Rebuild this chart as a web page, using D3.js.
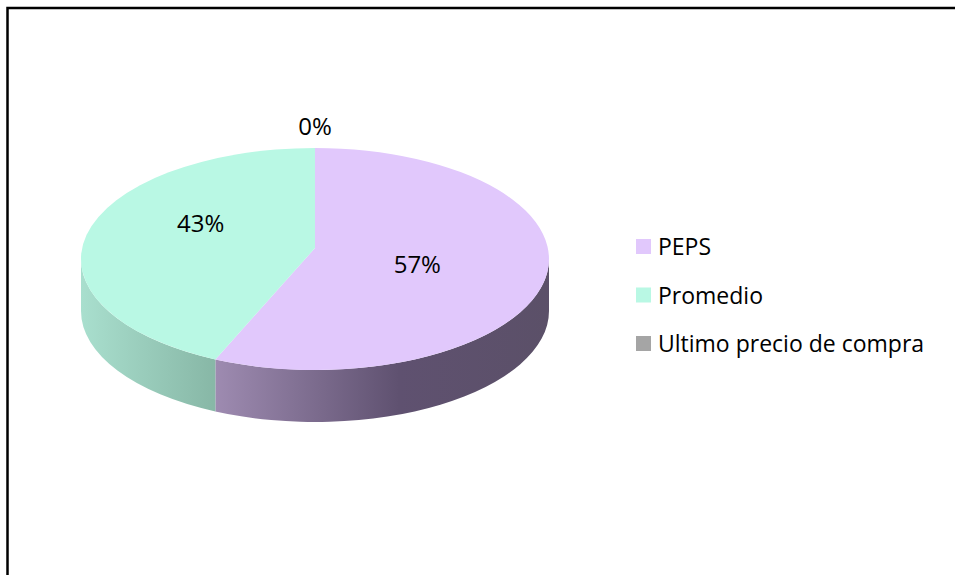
<!DOCTYPE html>
<html>
<head>
<meta charset="utf-8">
<script src="https://cdn.jsdelivr.net/npm/d3@7"></script>
<style>
  html, body { margin: 0; padding: 0; background: #fff; }
  svg { display: block; }
  text { font-family: "Open Sans", "Noto Sans", sans-serif; fill: #000; }
</style>
</head>
<body>
<svg id="chart" width="955" height="575"></svg>
<script>
// ---- data ----
const categories = ["PEPS", "Promedio", "Ultimo precio de compra"];
const values = [57, 43, 0];
const topColors = ["#E1C8FC", "#B9F8E4", "#A5A5A5"];
const sideStops = [
  [[0, "#A793BA"], [0.28, "#9F8CB2"], [0.68, "#5F5170"], [1, "#5B5068"]],
  [[0, "#A9DFCE"], [0.28, "#88B8A7"], [1, "#88B8A7"]],
  [[0, "#8A8A8A"], [1, "#6A6A6A"]]
];

// ---- layout ----
const svg = d3.select("#chart");
const W = 955, H = 575;
const cx = 315, cy = 259, rx = 234, ry = 111, depth = 52, apexDy = -11;

svg.append("rect").attr("x", 0).attr("y", 0).attr("width", W).attr("height", H).attr("fill", "#fff");
svg.append("rect").attr("x", 7.5).attr("y", 8).attr("width", 980).attr("height", 600)
  .attr("fill", "none").attr("stroke", "#000").attr("stroke-width", 2.5);

const pie = d3.pie().sort(null).value(d => d).startAngle(0).endAngle(2 * Math.PI);
const arcs = pie(values);

const P = (t, dy = 0) => [cx + rx * Math.sin(t), cy - ry * Math.cos(t) + dy];
const fmt = p => p[0].toFixed(2) + "," + p[1].toFixed(2);

const defs = svg.append("defs");
sideStops.forEach((stops, i) => {
  const g = defs.append("linearGradient").attr("id", "side" + i)
    .attr("gradientUnits", "userSpaceOnUse")
    .attr("x1", cx - rx).attr("x2", cx + rx).attr("y1", 0).attr("y2", 0);
  stops.forEach(s => g.append("stop").attr("offset", s[0]).attr("stop-color", s[1]));
});

// sides (front half only)
const gSide = svg.append("g");
arcs.forEach((a, i) => {
  const s = Math.max(a.startAngle, Math.PI / 2);
  const e = Math.min(a.endAngle, 3 * Math.PI / 2);
  if (e - s <= 1e-6) return;
  const d = "M" + fmt(P(s)) +
    " A" + rx + "," + ry + " 0 0 1 " + fmt(P(e)) +
    " L" + fmt(P(e, depth)) +
    " A" + rx + "," + ry + " 0 0 0 " + fmt(P(s, depth)) + " Z";
  gSide.append("path").attr("d", d).attr("fill", "url(#side" + i + ")");
});

// tops
const gTop = svg.append("g");
arcs.forEach((a, i) => {
  if (a.endAngle - a.startAngle <= 1e-6) return;
  const large = (a.endAngle - a.startAngle) > Math.PI ? 1 : 0;
  const d = "M" + fmt([cx, cy + apexDy]) +
    " L" + fmt(P(a.startAngle)) +
    " A" + rx + "," + ry + " 0 " + large + " 1 " + fmt(P(a.endAngle)) + " Z";
  gTop.append("path").attr("d", d).attr("fill", topColors[i]);
});

// labels
const total = d3.sum(values);
const lcx = 309, lcy = 244, lrx = 111, lry = 94;
const gLab = svg.append("g");
arcs.forEach((a, i) => {
  const pct = Math.round(values[i] / total * 100) + "%";
  let x, y;
  if (a.endAngle - a.startAngle <= 1e-6) {
    x = cx + rx * Math.sin(a.startAngle); y = cy - ry * Math.cos(a.startAngle) - 21;
    if (Math.abs(Math.sin(a.startAngle)) < 1e-6) { x = cx; y = cy - ry - 21; }
  } else {
    const m = (a.startAngle + a.endAngle) / 2;
    x = lcx + lrx * Math.sin(m); y = lcy - lry * Math.cos(m);
  }
  gLab.append("text").attr("x", x).attr("y", y).attr("dy", "0.35em")
    .attr("text-anchor", "middle").attr("font-size", 24).text(pct);
});

// legend
const gLeg = svg.append("g");
categories.forEach((c, i) => {
  const y0 = 239 + i * 48.5;
  gLeg.append("rect").attr("x", 636).attr("y", y0).attr("width", 15).attr("height", 15)
    .attr("fill", topColors[i]);
  gLeg.append("text").attr("x", 658).attr("y", y0 + 16).attr("font-size", 23).text(c);
});
</script>
</body>
</html>
